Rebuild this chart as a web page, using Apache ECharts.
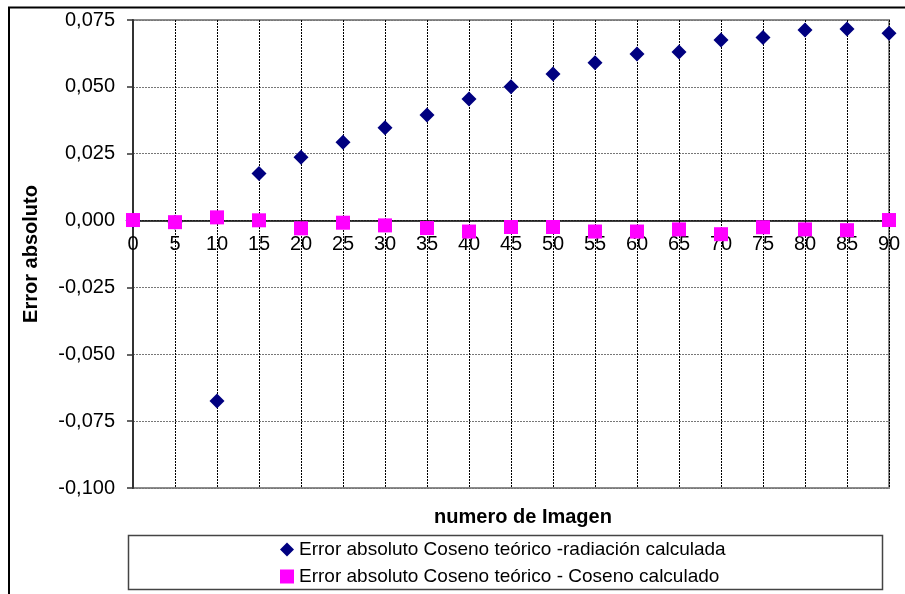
<!DOCTYPE html>
<html>
<head>
<meta charset="utf-8">
<script src="https://cdn.jsdelivr.net/npm/echarts@6/dist/echarts.min.js"></script>
<style>html,body{margin:0;padding:0;background:#fff;}#c{width:905px;height:594px;}</style>
</head>
<body>
<div id="c"></div>
<script>
var imagenes = [0,5,10,15,20,25,30,35,40,45,50,55,60,65,70,75,80,85,90];
var errorRadiacion = [0.0000,-0.0006,-0.0675,0.0176,0.0237,0.0293,0.0347,0.0395,0.0455,0.0500,0.0548,0.0590,0.0623,0.0630,0.0675,0.0685,0.0713,0.0716,0.0700];
var errorCoseno = [0.0002,-0.0006,0.0012,0.0001,-0.0029,-0.0008,-0.0018,-0.0028,-0.0041,-0.0024,-0.0024,-0.0041,-0.0041,-0.0033,-0.0051,-0.0025,-0.0033,-0.0036,0.0002];
var yTicks = [-0.100,-0.075,-0.050,-0.025,0.000,0.025,0.050,0.075];
var serieNames = ['Error absoluto Coseno teórico -radiación calculada','Error absoluto Coseno teórico - Coseno calculado'];
var xTitle = 'numero de Imagen';
var yTitle = 'Error absoluto';

function pairs(xs, ys){ return xs.map(function(x,i){ return [x, ys[i]]; }); }
var FONT = '"Liberation Sans", Arial, sans-serif';
var GRID_TOP = 20, GRID_BOTTOM = 106, H = 594;
var yMin = yTicks[0], yMax = yTicks[yTicks.length-1];
var plotH = H - GRID_TOP - GRID_BOTTOM;
// distance from bottom of plot to the zero line, so the x axis sits on y = 0
var zeroOffset = -plotH * (0 - yMin) / (yMax - yMin);

var chart = echarts.init(document.getElementById('c'), null, {renderer:'canvas'});
chart.setOption({
  animation:false,
  backgroundColor:'#fff',
  textStyle:{fontFamily:FONT},
  grid:{left:133, top:GRID_TOP, right:16, bottom:GRID_BOTTOM, show:true, borderColor:'#8c8c8c', borderWidth:2, backgroundColor:'transparent'},
  xAxis:{
    type:'value', min:0, max:90, interval:5, offset:zeroOffset,
    axisLine:{show:true, onZero:false, lineStyle:{color:'#000', width:1.5}},
    axisTick:{show:false},
    axisLabel:{color:'#000', fontSize:20, fontFamily:FONT, margin:14},
    splitLine:{show:true, lineStyle:{color:'#000', type:[2,1], width:1}}
  },
  yAxis:{
    type:'value', min:yMin, max:yMax, interval:0.025,
    name:yTitle, nameLocation:'middle', nameGap:92, nameRotate:90,
    nameTextStyle:{color:'#000', fontSize:20, fontWeight:'bold', fontFamily:FONT},
    axisLine:{show:true, onZero:false, lineStyle:{color:'#333', width:2}},
    axisTick:{show:true, inside:false, length:6, lineStyle:{color:'#333', width:1.5}},
    axisLabel:{color:'#000', fontSize:20, fontFamily:FONT, margin:18,
      formatter:function(v){ return v.toFixed(3).replace('.',','); }},
    splitLine:{show:true, lineStyle:{color:'#777', type:[2,1], width:1}}
  },
  legend:{
    orient:'vertical', left:280, top:540, padding:0, itemWidth:14, itemHeight:14, itemGap:8,
    textStyle:{color:'#000', fontSize:19, lineHeight:18, fontFamily:FONT},
    data:[{name:serieNames[0], icon:'diamond'},{name:serieNames[1], icon:'rect'}]
  },
  graphic:[
    {type:'rect', shape:{x:9, y:7.5, width:1200, height:1200}, style:{fill:'none', stroke:'#000', lineWidth:2}, silent:true},
    {type:'rect', shape:{x:128.5, y:535.5, width:754, height:54}, style:{fill:'none', stroke:'#444', lineWidth:1.5}, silent:true},
    {type:'text', x:523, y:517, style:{text:xTitle, fill:'#000', font:'bold 20px '+FONT, textAlign:'center', textVerticalAlign:'middle'}}
  ],
  series:[
    {name:serieNames[0], type:'scatter', symbol:'diamond', symbolSize:15, itemStyle:{color:'#000080', opacity:1}, data:pairs(imagenes, errorRadiacion), z:3},
    {name:serieNames[1], type:'scatter', symbol:'rect', symbolSize:14, itemStyle:{color:'#ff00ff', opacity:1}, data:pairs(imagenes, errorCoseno), z:4}
  ]
});
</script>
</body>
</html>
